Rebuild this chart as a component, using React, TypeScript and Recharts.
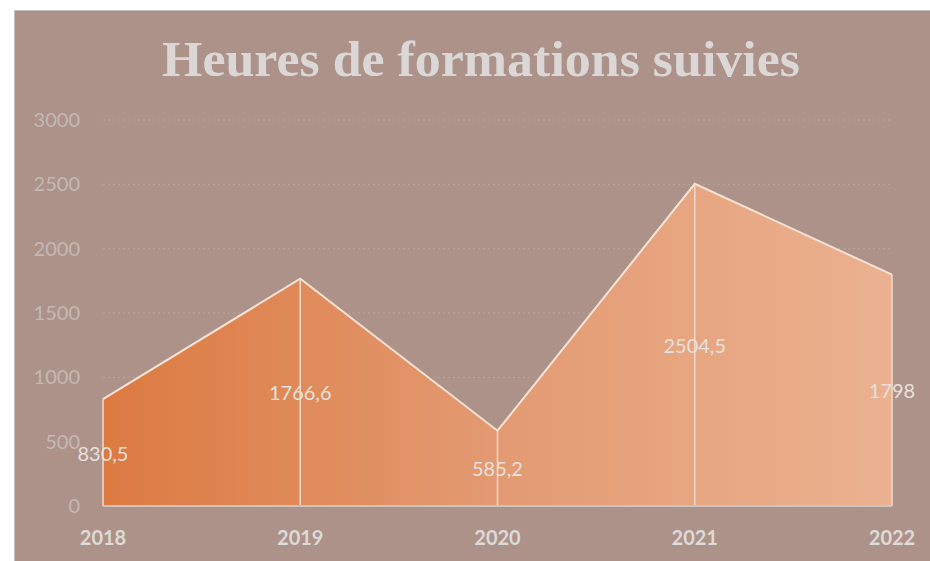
import React from 'react';
import {
  AreaChart,
  Area,
  Line,
  XAxis,
  YAxis,
  CartesianGrid,
  ReferenceLine,
  LabelList,
} from 'recharts';

const years = ['2018', '2019', '2020', '2021', '2022'];
const hours = [830.5, 1766.6, 585.2, 2504.5, 1798];
const hourLabels = ['830,5', '1766,6', '585,2', '2504,5', '1798'];
const yTicks = [0, 500, 1000, 1500, 2000, 2500, 3000];
const title = 'Heures de formations suivies';

const data = years.map((year, i) => ({
  year,
  hours: hours[i],
  label: hourLabels[i],
  mid: hours[i] / 2,
}));

const renderLabel = (props: any) => {
  const x = props.x ?? props.viewBox?.x;
  const y = props.y ?? props.viewBox?.y;
  if (x == null || y == null) return null;
  return (
    <text
      x={x}
      y={y}
      textAnchor="middle"
      dominantBaseline="central"
      fill="#E6E1DE"
      fontSize={20}
      fontFamily="Lato, 'Open Sans', sans-serif"
    >
      {props.value}
    </text>
  );
};

export default function App() {
  return (
    <div style={{ position: 'absolute', left: 0, top: 0, width: 930, height: 561 }}>
      <div
        style={{
          position: 'absolute',
          left: 14,
          top: 10,
          width: 930 - 14,
          height: 561 - 10,
          background: '#AC9288',
          borderTop: '1px solid #C4C0BE',
          borderLeft: '1px solid #C4C0BE',
          boxSizing: 'border-box',
        }}
      />
      <svg
        width={930}
        height={561}
        style={{ position: 'absolute', left: 0, top: 0 }}
      >
        <text
          x={481}
          y={76}
          textAnchor="middle"
          fill="#DAD7D6"
          fontSize={50}
          fontWeight="bold"
          fontFamily="'Liberation Serif', 'DejaVu Serif', serif"
          textLength={638}
          lengthAdjust="spacingAndGlyphs"
        >
          {title}
        </text>
      </svg>
      <div style={{ position: 'absolute', left: 0, top: 0 }}>
        <AreaChart
          width={930}
          height={561}
          data={data}
          margin={{ top: 120, right: 38, bottom: 0, left: 0 }}
        >
          <defs>
            <linearGradient id="areaGrad" x1="0" y1="0" x2="1" y2="0">
              <stop offset="0%" stopColor="#DC7A41" />
              <stop offset="50%" stopColor="#E39A72" />
              <stop offset="100%" stopColor="#EBB190" />
            </linearGradient>
          </defs>
          <CartesianGrid
            vertical={false}
            stroke="#BCA69D"
            strokeDasharray="2 3"
          />
          <XAxis
            dataKey="year"
            height={55}
            tickLine={false}
            tickSize={0}
            tickMargin={25}
            axisLine={{ stroke: '#CBC4C0', strokeWidth: 2 }}
            interval={0}
            padding={{ left: 0, right: 0 }}
            tick={{
              fill: '#DEDAD8',
              fontSize: 20,
              fontWeight: 'bold',
              fontFamily: "Lato, 'Open Sans', sans-serif",
            }}
          />
          <YAxis
            width={103}
            domain={[0, 3000]}
            ticks={yTicks}
            interval={0}
            axisLine={false}
            tickLine={false}
            tickSize={0}
            tickMargin={23}
            tick={{
              fill: '#C5B8B2',
              fontSize: 20,
              fontFamily: "Lato, 'Open Sans', sans-serif",
            }}
          />
          <Area
            type="linear"
            dataKey="hours"
            stroke="#F7E3D6"
            strokeWidth={2}
            fill="url(#areaGrad)"
            fillOpacity={1}
            dot={false}
            activeDot={false}
            isAnimationActive={false}
          />
          {data.map((d) => (
            <ReferenceLine
              key={d.year}
              segment={[
                { x: d.year, y: 0 },
                { x: d.year, y: d.hours },
              ]}
              stroke="#F4DACB"
              strokeWidth={1.5}
            />
          ))}
          <Line
            type="linear"
            dataKey="mid"
            stroke="none"
            dot={false}
            activeDot={false}
            legendType="none"
            isAnimationActive={false}
          >
            <LabelList dataKey="label" content={renderLabel} />
          </Line>
        </AreaChart>
      </div>
    </div>
  );
}
